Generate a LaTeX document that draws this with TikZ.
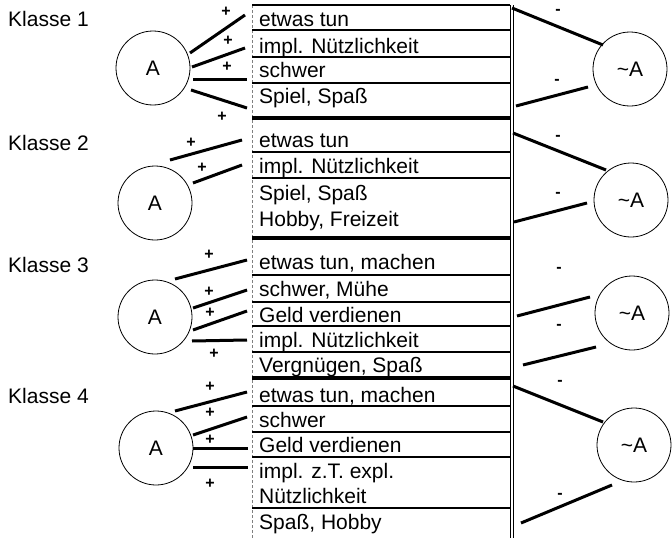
\documentclass[tikz,border=0pt]{standalone}
\usepackage{fontspec}
\setmainfont{Liberation Sans}
\begin{document}
\begin{tikzpicture}[x=1pt,y=-1pt,
  txt/.style={font=\fontsize{21}{24}\selectfont, inner sep=0pt, anchor=base west},
  circ/.style={circle, draw, line width=0.8pt, minimum size=74pt, inner sep=0pt, font=\fontsize{21}{24}\selectfont},
  conn/.style={line width=3pt},
  sgn/.style={font=\fontsize{16}{18}\selectfont\bfseries, inner sep=0pt},
  rowline/.style={line width=1.2pt},
  sepline/.style={line width=3.5pt},
  border/.style={line width=0.9pt}]
\useasboundingbox (0,0) rectangle (672,538);

% class labels
\node[txt] (k1) at (8,27) {Klasse 1};
\node[txt] (k2) at (8,150) {Klasse 2};
\node[txt] (k3) at (8,272) {Klasse 3};
\node[txt] (k4) at (8,403) {Klasse 4};

% circles
\node[circ] (A1) at (153,68) {A};
\node[circ] (A2) at (155,203) {A};
\node[circ] (A3) at (155,317) {A};
\node[circ] (A4) at (156,448) {A};
\node[circ] (N1) at (630,69) {\char`\~A};
\node[circ] (N2) at (631,200) {\char`\~A};
\node[circ] (N3) at (632,313) {\char`\~A};
\node[circ] (N4) at (634,445) {\char`\~A};

% table frame
\draw[gray, densely dashed, line width=0.6pt] (252,5) -- (252,538);
\draw[border] (510,5) -- (510,538);
\draw[border] (513,5) -- (513,538);
\draw[rowline] (252,5) -- (510,5);
\foreach \y in {30,57,83,152,178,275,302,326,352,406,432,457,508}
  \draw[rowline] (252,\y) -- (510,\y);
\foreach \y in {118,238,378}
  \draw[sepline] (252,\y) -- (510,\y);

% cells
\node[txt] (c11) at (259,26.5) {etwas tun};
\node[txt] (c12) at (259,53) {impl. Nützlichkeit};
\node[txt] (c13) at (259,77.5) {schwer};
\node[txt] (c14) at (259,103) {Spiel, Spaß};
\node[txt] (c21) at (259,147) {etwas tun};
\node[txt] (c22) at (259,173) {impl. Nützlichkeit};
\node[txt] (c23) at (259,200) {Spiel, Spaß};
\node[txt] (c24) at (259,226) {Hobby, Freizeit};
\node[txt] (c31) at (259,269) {etwas tun, machen};
\node[txt] (c32) at (259,296) {schwer, Mühe};
\node[txt] (c33) at (259,322) {Geld verdienen};
\node[txt] (c34) at (259,347) {impl. Nützlichkeit};
\node[txt] (c35) at (259,372) {Vergnügen, Spaß};
\node[txt] (c41) at (259,402) {etwas tun, machen};
\node[txt] (c42) at (259,427) {schwer};
\node[txt] (c43) at (259,452) {Geld verdienen};
\node[txt] (c44) at (259,478) {impl. z.T. expl.};
\node[txt] (c45) at (259,503) {Nützlichkeit};
\node[txt] (c46) at (259,529) {Spaß, Hobby};

% connector end points
\coordinate (a1a) at (190,53);  \coordinate (t1a) at (245,15);
\coordinate (a1b) at (192,67);  \coordinate (t1b) at (245,48);
\coordinate (a1c) at (193,79);  \coordinate (t1c) at (247,79);
\coordinate (a1d) at (191,90);  \coordinate (t1d) at (247,108);
\coordinate (r1a) at (512,8);   \coordinate (n1a) at (603,45);
\coordinate (r1b) at (516,106); \coordinate (n1b) at (588,87);

\coordinate (a2a) at (170,160); \coordinate (t2a) at (242,140);
\coordinate (a2b) at (193,183); \coordinate (t2b) at (242,165);
\coordinate (r2a) at (513,133); \coordinate (n2a) at (606,170);
\coordinate (r2b) at (514,222); \coordinate (n2b) at (587,203);

\coordinate (a3a) at (175,279); \coordinate (t3a) at (247,260);
\coordinate (a3b) at (193,308); \coordinate (t3b) at (247,290);
\coordinate (a3c) at (193,330); \coordinate (t3c) at (247,311);
\coordinate (a3d) at (192,341); \coordinate (t3d) at (247,340);
\coordinate (r3a) at (517,316); \coordinate (n3a) at (590,297);
\coordinate (r3b) at (523,365); \coordinate (n3b) at (596,347);

\coordinate (a4a) at (175,411); \coordinate (t4a) at (247,392);
\coordinate (a4b) at (193,435); \coordinate (t4b) at (247,417);
\coordinate (a4c) at (193,448); \coordinate (t4c) at (248,448);
\coordinate (a4d) at (193,467); \coordinate (t4d) at (248,467);
\coordinate (r4a) at (513,386); \coordinate (n4a) at (603,422);
\coordinate (r4b) at (521,523); \coordinate (n4b) at (612,485);

\foreach \s/\e in {a1a/t1a,a1b/t1b,a1c/t1c,a1d/t1d,r1a/n1a,r1b/n1b,
                   a2a/t2a,a2b/t2b,r2a/n2a,r2b/n2b,
                   a3a/t3a,a3b/t3b,a3c/t3c,a3d/t3d,r3a/n3a,r3b/n3b,
                   a4a/t4a,a4b/t4b,a4c/t4c,a4d/t4d,r4a/n4a,r4b/n4b}
  \draw[conn] (\s) -- (\e);

% signs
\node[sgn] (p11) at (226,12) {+};
\node[sgn] (p12) at (228,41) {+};
\node[sgn] (p13) at (227,67) {+};
\node[sgn] (p14) at (222,117) {+};
\node[sgn] (p21) at (191,143) {+};
\node[sgn] (p22) at (202,168) {+};
\node[sgn] (p31) at (209,255) {+};
\node[sgn] (p32) at (209,292) {+};
\node[sgn] (p33) at (210,313) {+};
\node[sgn] (p34) at (214,354) {+};
\node[sgn] (p41) at (210,387) {+};
\node[sgn] (p42) at (210,413) {+};
\node[sgn] (p43) at (210,440) {+};
\node[sgn] (p44) at (210,484) {+};

\node[sgn] (m11) at (558,12) {-};
\node[sgn] (m12) at (557,82) {-};
\node[sgn] (m21) at (558,138) {-};
\node[sgn] (m22) at (558,195) {-};
\node[sgn] (m31) at (559,270) {-};
\node[sgn] (m32) at (559,327) {-};
\node[sgn] (m41) at (560,383) {-};
\node[sgn] (m42) at (560,496) {-};
\end{tikzpicture}
\end{document}
